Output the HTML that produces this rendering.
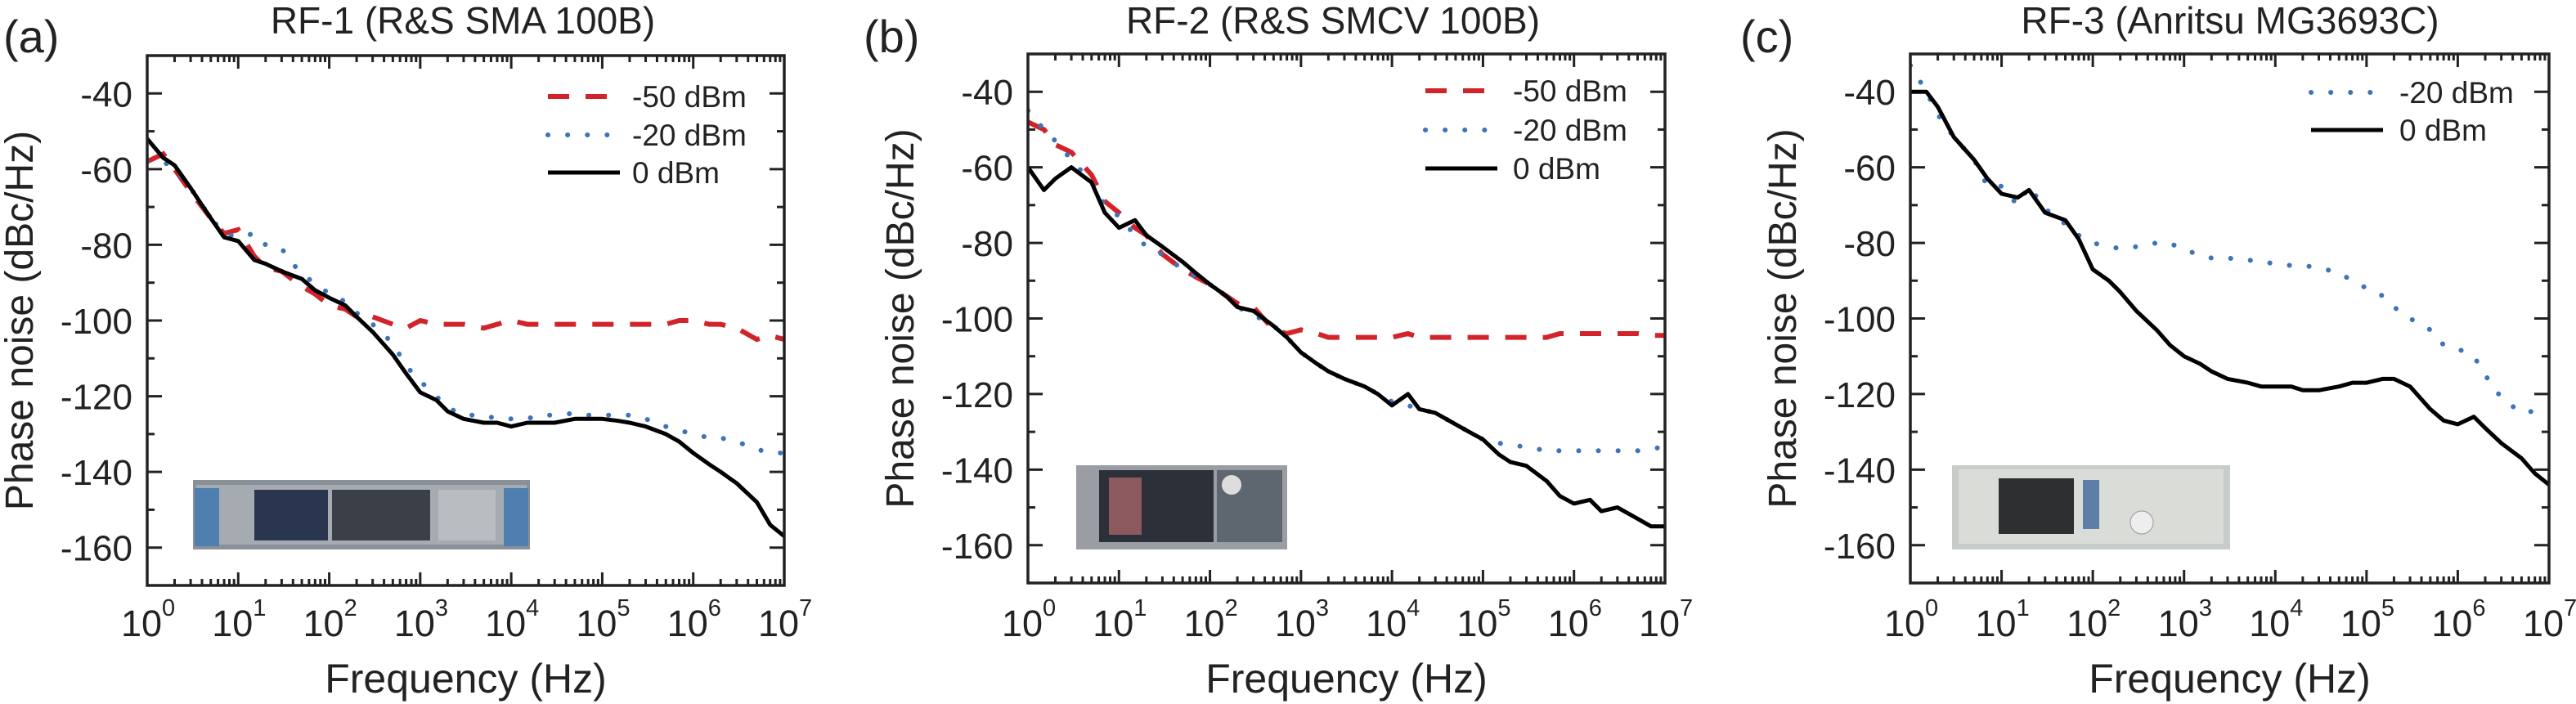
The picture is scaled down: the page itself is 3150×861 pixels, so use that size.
<!DOCTYPE html>
<html><head><meta charset="utf-8"><style>
html,body{margin:0;padding:0;background:#fff;}
svg{display:block;font-family:"Liberation Sans",Arial,sans-serif;}
</style></head><body>
<svg id="fig" width="3150" height="861" viewBox="0 0 3150 861" xmlns="http://www.w3.org/2000/svg"></svg>
<script>
const freqs = [1,1.5,2,3,5,7,10,15,20,30,50,70,1e2,1.5e2,2e2,3e2,5e2,7e2,1e3,1.5e3,2e3,3e3,5e3,7e3,1e4,1.5e4,2e4,3e4,5e4,7e4,1e5,1.5e5,2e5,3e5,5e5,7e5,1e6,1.5e6,2e6,3e6,5e6,7e6,1e7];
const xTickLabels = ["0","1","2","3","4","5","6","7"];
const yTickValues = [-40,-60,-80,-100,-120,-140,-160];
const yTickLabels = ["-40","-60","-80","-100","-120","-140","-160"];

const a_0dBm = [-52,-57,-59,-65,-73,-78,-79,-84,-85,-87,-89,-92,-94,-96,-99,-103,-109,-114,-119,-121,-124,-126,-127,-127,-128,-127,-127,-127,-126,-126,-126,-126.5,-127,-128,-130,-132,-135,-138,-140,-143,-148,-154,-157];
const a_m50dBm = [-58,-56,-60,-66,-73,-77,-76,-83,-86,-87,-91,-93,-96,-97,-99,-99,-101,-102,-100,-101,-101,-101,-102,-101,-100,-101,-101,-101,-101,-101,-101,-101,-101,-101,-101,-100,-100,-101,-101,-102,-105,-104,-105];
const a_m20dBm = [-58,-58,-60,-65,-73,-77,-78,-77,-80,-81,-88,-90,-93,-95,-98,-101,-106,-112,-116,-120,-123,-125,-125,-126,-126,-126,-125,-125,-124.5,-125,-125,-125,-125,-126,-128,-129,-130,-131,-131,-132,-134,-135,-135];

const b_0dBm = [-60,-66,-63,-60,-64,-72,-76,-74,-78,-81,-85,-88,-91,-94,-97,-98,-102,-105,-109,-112,-114,-116,-118,-120,-123,-120,-124,-125,-128,-130,-132,-136,-138,-139,-143,-147,-149,-148,-151,-150,-153,-155,-155];
const b_m50dBm = [-48,-50,-54,-56,-62,-69,-72,-76,-78,-83,-87,-89,-91,-94,-96,-97,-103,-104,-103,-104,-105,-105,-105,-105,-105,-104,-105,-105,-105,-105,-105,-105,-105,-105,-105,-104,-104,-104,-104,-104,-104,-104.5,-104.5];
const b_m20dBm = [-45,-50,-53,-58,-64,-70,-73,-78,-81,-83,-87,-89,-91,-94,-97,-99,-102,-105,-109,-112,-114,-116,-118,-120,-122,-123,-124,-125,-128,-130,-132,-133,-133.5,-134,-135,-135,-135,-135,-135,-135,-135,-134.5,-134];

const c_0dBm = [-40,-40,-44,-52,-58,-63,-67,-68,-66,-72,-74,-79,-87,-90,-93,-98,-103,-107,-110,-112,-114,-116,-117,-118,-118,-118,-119,-119,-118,-117,-117,-116,-116,-118,-124,-127,-128,-126,-129,-133,-137,-141,-144];
const c_m20dBm = [-33,-40,-46,-52,-58,-65,-65,-70,-65,-71,-75,-78,-80,-81,-81.5,-81,-80,-80,-82,-83,-84,-84,-84.5,-85,-85.5,-86,-86,-86.5,-88,-90,-92,-94,-97,-100,-103,-107,-108,-110,-115,-121,-125,-124.5,-125];

const NS = "http://www.w3.org/2000/svg";
const svg = document.getElementById('fig');
function mk(tag, attrs, parent){const e=document.createElementNS(NS,tag);for(const k in attrs)e.setAttribute(k,attrs[k]);(parent||svg).appendChild(e);return e;}

const panels = [
 {id:'a', letter:'(a)', title:'RF-1 (R&S SMA 100B)', L:180, R:959, T:68, B:716, titleX:566, letterX:4,
  leg:{lx:670, tx:773, ys:[118,165,211]},
  series:[{n:'-50 dBm',d:a_m50dBm,s:'dash'},{n:'-20 dBm',d:a_m20dBm,s:'dot'},{n:'0 dBm',d:a_0dBm,s:'solid'}],
  img:{x:236,y:587,w:412,h:85,kind:1}},
 {id:'b', letter:'(b)', title:'RF-2 (R&S SMCV 100B)', L:1257, R:2036, T:66, B:713, titleX:1630, letterX:1056,
  leg:{lx:1743, tx:1850, ys:[111,159,206]},
  series:[{n:'-50 dBm',d:b_m50dBm,s:'dash'},{n:'-20 dBm',d:b_m20dBm,s:'dot'},{n:'0 dBm',d:b_0dBm,s:'solid'}],
  img:{x:1316,y:569,w:258,h:103,kind:2}},
 {id:'c', letter:'(c)', title:'RF-3 (Anritsu MG3693C)', L:2336, R:3117, T:66, B:713, titleX:2727, letterX:2128,
  leg:{lx:2826, tx:2934, ys:[113,159]},
  series:[{n:'-20 dBm',d:c_m20dBm,s:'dot'},{n:'0 dBm',d:c_0dBm,s:'solid'}],
  img:{x:2387,y:569,w:340,h:103,kind:3}}
];
const styles = {
 dash:{stroke:'#d2232a','stroke-width':6,'stroke-dasharray':'26 20',fill:'none'},
 dot:{stroke:'#3d74b8','stroke-width':6,'stroke-dasharray':'0.1 24','stroke-linecap':'round',fill:'none'},
 solid:{stroke:'#000','stroke-width':5,fill:'none','stroke-linejoin':'round'}
};

panels.forEach(p=>{
  const g = mk('g',{});
  
  
  const xs = f => p.L + (Math.log10(f)/7)*(p.R-p.L);
  const ys = v => p.T + ((-30 - v)/140)*(p.B-p.T);

  const lt = mk('text',{x:p.letterX,y:64,'font-size':56,fill:'#222'},g); lt.textContent=p.letter;
   
  const tt = mk('text',{x:p.titleX,y:41,'font-size':46,'text-anchor':'middle',fill:'#222'},g); tt.textContent=p.title;
   

  const im = mk('g',{},g);
   
  const I=p.img;
  if(I.kind===1){
    mk('rect',{x:I.x,y:I.y,width:I.w,height:I.h,fill:'#8a9098'},im);
    mk('rect',{x:I.x+4,y:I.y+6,width:I.w-8,height:I.h-12,fill:'#a6abb2'},im);
    mk('rect',{x:I.x+2,y:I.y+10,width:30,height:I.h-14,fill:'#4f7fb0'},im);
    mk('rect',{x:I.x+I.w-32,y:I.y+10,width:30,height:I.h-14,fill:'#4f7fb0'},im);
    mk('rect',{x:I.x+75,y:I.y+12,width:90,height:62,fill:'#2a3550'},im);
    mk('rect',{x:I.x+170,y:I.y+12,width:120,height:62,fill:'#3a3f48'},im);
    mk('rect',{x:I.x+300,y:I.y+12,width:70,height:62,fill:'#b9bcc0'},im);
  } else if(I.kind===2){
    mk('rect',{x:I.x,y:I.y,width:I.w,height:I.h,fill:'#9a9ea4'},im);
    mk('rect',{x:I.x+28,y:I.y+6,width:140,height:88,fill:'#2c3038'},im);
    mk('rect',{x:I.x+40,y:I.y+15,width:40,height:70,fill:'#8c5a5e'},im);
    mk('rect',{x:I.x+172,y:I.y+6,width:80,height:88,fill:'#5e6670'},im);
    mk('circle',{cx:I.x+190,cy:I.y+24,r:12,fill:'#ddd'},im);
  } else {
    mk('rect',{x:I.x,y:I.y,width:I.w,height:I.h,fill:'#c8ccc9'},im);
    mk('rect',{x:I.x+8,y:I.y+5,width:I.w-16,height:I.h-12,fill:'#dadcd8'},im);
    mk('rect',{x:I.x+57,y:I.y+16,width:92,height:68,fill:'#2d2f30'},im);
    mk('rect',{x:I.x+160,y:I.y+18,width:20,height:60,fill:'#5d7ea8'},im);
    mk('circle',{cx:I.x+232,cy:I.y+70,r:14,fill:'#eee',stroke:'#999'},im);
  }

  const tk = mk('g',{stroke:'#222','stroke-width':3},g);
   
  for(let d=0; d<=7; d++){
    const x = xs(Math.pow(10,d));
    mk('line',{x1:x,y1:p.B,x2:x,y2:p.B-16},tk);
    mk('line',{x1:x,y1:p.T,x2:x,y2:p.T+16},tk);
    if(d<7) for(let m=2;m<=9;m++){
      const xm = xs(m*Math.pow(10,d));
      mk('line',{x1:xm,y1:p.B,x2:xm,y2:p.B-8},tk);
      mk('line',{x1:xm,y1:p.T,x2:xm,y2:p.T+8},tk);
    }
    const lab = mk('text',{x:x-7,y:778,'font-size':45,'text-anchor':'middle',fill:'#222',stroke:'none'},g);
    lab.textContent='10';
     
    const sup = mk('text',{x:x+18,y:753,'font-size':29,'text-anchor':'start',fill:'#222'},g);
    sup.textContent=xTickLabels[d];
  }
  for(let v=-40; v>=-170; v-=10){
    const y = ys(v); const major = (v%20===0);
    const len = major?18:9;
    mk('line',{x1:p.L,y1:y,x2:p.L+len,y2:y},tk);
    mk('line',{x1:p.R,y1:y,x2:p.R-len,y2:y},tk);
  }
  yTickValues.forEach((v,i)=>{
    const t = mk('text',{x:p.L-18,y:ys(v)+16,'font-size':44,'text-anchor':'end',fill:'#222'},g);
    t.textContent=yTickLabels[i];
     
  });
  const xt = mk('text',{x:(p.L+p.R)/2,y:847,'font-size':50,'text-anchor':'middle',fill:'#222'},g);
  xt.textContent='Frequency (Hz)';
   
  const ytx = p.L-140, yty=(p.T+p.B)/2;
  const yt = mk('text',{x:ytx,y:yty,'font-size':48,'text-anchor':'middle',fill:'#222',transform:`rotate(-90 ${ytx} ${yty})`},g);
  yt.textContent='Phase noise (dBc/Hz)';
   

  const clipId='clip'+p.id;
  const cp = mk('clipPath',{id:clipId},g); mk('rect',{x:p.L,y:p.T,width:p.R-p.L,height:p.B-p.T},cp);
  p.series.forEach(s=>{
    const pts = s.d.map((v,i)=>xs(freqs[i]).toFixed(1)+','+ys(v).toFixed(1)).join(' ');
    const pl = mk('polyline',Object.assign({points:pts,'clip-path':`url(#${clipId})`},styles[s.s]),g);
    
    
  });

  const fr = mk('rect',{x:p.L,y:p.T,width:p.R-p.L,height:p.B-p.T,fill:'none',stroke:'#222','stroke-width':3.5},g);
   

  const lg = mk('g',{},g);
   
  p.series.forEach((s,i)=>{
    const y=p.leg.ys[i];
    const e = mk('g',{},lg);
     
    mk('line',Object.assign({x1:p.leg.lx,y1:y,x2:p.leg.lx+88,y2:y},styles[s.s]),e);
    const t = mk('text',{x:p.leg.tx,y:y+13,'font-size':37,fill:'#222'},e); t.textContent=s.n;
  });
});
</script>
</body></html>
